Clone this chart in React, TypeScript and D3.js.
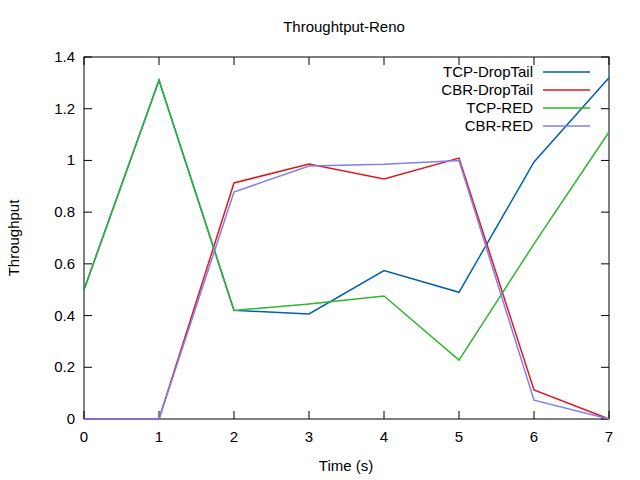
import React from "react";
import * as d3 from "d3";

const xs = [0, 1, 2, 3, 4, 5, 6, 7];
const tcpDropTail = [0.5, 1.31, 0.42, 0.406, 0.574, 0.49, 0.994, 1.32];
const cbrDropTail = [0, 0, 0.913, 0.986, 0.928, 1.009, 0.112, 0];
const tcpRed = [0.5, 1.31, 0.42, 0.445, 0.476, 0.228, 0.677, 1.11];
const cbrRed = [0, 0, 0.878, 0.978, 0.985, 1.0, 0.073, 0];
const seriesNames = ["TCP-DropTail", "CBR-DropTail", "TCP-RED", "CBR-RED"];
const colors = ["#0060ad", "#dd181f", "#2fb52f", "#7f7ff0"];
const yTicks = [0, 0.2, 0.4, 0.6, 0.8, 1, 1.2, 1.4];

export default function App() {
  const L = 84, R = 609, T = 57, B = 419;
  const x = d3.scaleLinear().domain([0, 7]).range([L, R]);
  const y = d3.scaleLinear().domain([0, 1.4]).range([B, T]);
  const line = d3.line<number>().x((_, i) => x(xs[i])).y((d) => y(d));
  const all = [tcpDropTail, cbrDropTail, tcpRed, cbrRed];
  const font = "Liberation Sans, Arial, sans-serif";
  return (
    <svg width={640} height={480} style={{ position: "absolute", left: 0, top: 0 }} fontFamily={font} fontSize={15}>
      <rect width={640} height={480} fill="#fff" />
      {yTicks.map((t) => (
        <g key={t}>
          <line x1={L} x2={L + 8} y1={y(t)} y2={y(t)} stroke="#000" />
          <line x1={R} x2={R - 8} y1={y(t)} y2={y(t)} stroke="#000" />
          <text x={L - 9} y={y(t) + 5} textAnchor="end">{t === 0 || t === 1 ? String(t) : t.toFixed(1)}</text>
        </g>
      ))}
      {xs.map((t) => (
        <g key={t}>
          <line x1={x(t)} x2={x(t)} y1={B} y2={B - 8} stroke="#000" />
          <line x1={x(t)} x2={x(t)} y1={T} y2={T + 8} stroke="#000" />
          <text x={x(t)} y={B + 23} textAnchor="middle">{t}</text>
        </g>
      ))}
      <rect x={L} y={T} width={R - L} height={B - T} fill="none" stroke="#000" />
      {all.map((s, i) => (
        <path key={i} d={line(s) || ""} fill="none" stroke={colors[i]} strokeWidth={1.5} />
      ))}
      {seriesNames.map((n, i) => (
        <g key={n}>
          <text x={533} y={77 + i * 18} textAnchor="end">{n}</text>
          <line x1={543} x2={590} y1={72 + i * 18} y2={72 + i * 18} stroke={colors[i]} strokeWidth={1.5} />
        </g>
      ))}
      <text x={344} y={32} textAnchor="middle">Throughtput-Reno</text>
      <text x={346} y={471} textAnchor="middle">Time (s)</text>
      <text transform="translate(19,238) rotate(-90)" textAnchor="middle">Throughput</text>
    </svg>
  );
}
